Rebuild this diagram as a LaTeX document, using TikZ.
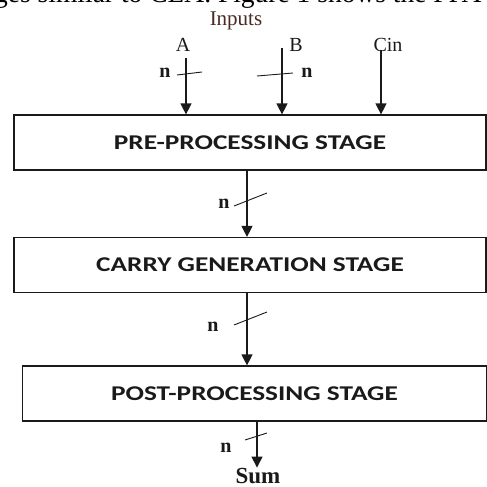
\documentclass[tikz,border=0pt]{standalone}
\usepackage{fontspec}
\setmainfont{Liberation Serif}
\newfontfamily\calib{Carlito}
\usetikzlibrary{arrows.meta}
\definecolor{inkc}{HTML}{1A1A1A}
\definecolor{brownc}{HTML}{4A2A22}
\tikzset{
  stagebox/.style={draw=inkc, line width=1.2pt, minimum width=472pt, minimum height=55pt, inner sep=0pt,
    font=\calib\bfseries\fontsize{21}{24}\selectfont, text=inkc},
  flow/.style={draw=inkc, line width=1.2pt, -{Triangle[width=11pt,length=11pt]}},
  busmark/.style={draw=inkc, line width=0.9pt},
  serlab/.style={font=\fontsize{20}{22}\selectfont, text=inkc, inner sep=0pt, anchor=base},
  nlab/.style={font=\bfseries\fontsize{20}{22}\selectfont, text=inkc, inner sep=0pt}
}
\newcommand{\wide}[1]{\scalebox{1.3}[1]{#1}}
\begin{document}
\begin{tikzpicture}[x=1pt,y=-1pt]
\useasboundingbox (0,0) rectangle (487,487);
\begin{scope}
\clip (0,0) rectangle (487,487);
\node[anchor=base west, font=\fontsize{27.5}{30}\selectfont, inner sep=0pt] (pagetext) at (-6,3) {ges similar to CLA. Figure 1 shows the PPA};
\end{scope}
\node[font=\fontsize{21}{23}\selectfont, text=brownc, inner sep=0pt, anchor=base] (inputs) at (236,26) {Inputs};
\node[serlab] (labA) at (183,52) {A};
\node[serlab] (labB) at (296,52) {B};
\node[serlab] (labC) at (388,52) {Cin};
\node[stagebox] (pre) at (250,142.5) {\wide{PRE-PROCESSING STAGE}};
\node[stagebox] (carry) at (250,265) {\wide{CARRY GENERATION STAGE}};
\node[stagebox, minimum width=464pt] (post) at (254.5,393.5) {\wide{POST-PROCESSING STAGE}};
\node[font=\bfseries\fontsize{23}{25}\selectfont, text=inkc, inner sep=0pt, anchor=base] (sum) at (258,483) {Sum};
\coordinate (aTop) at (186,58);
\coordinate (bTop) at (282,48);
\coordinate (cTop) at (381,50);
\draw[flow] (aTop) -- (aTop |- pre.north);
\draw[flow] (bTop) -- (bTop |- pre.north);
\draw[flow] (cTop) -- (cTop |- pre.north);
\coordinate (s2) at (247,0);
\coordinate (s3) at (247,0);
\coordinate (s4) at (257,0);
\draw[flow] (s2 |- pre.south) -- (s2 |- carry.north);
\draw[flow] (s3 |- carry.south) -- (s3 |- post.north);
\draw[flow] (s4 |- post.south) -- (s4 |- sum.north);
% bus marks
\coordinate (ma1) at (177,75); \coordinate (ma2) at (202,72);
\draw[busmark] (ma1) -- (ma2);
\coordinate (mb1) at (257,76); \coordinate (mb2) at (293,73);
\draw[busmark] (mb1) -- (mb2);
\coordinate (m21) at (234,206); \coordinate (m22) at (267,193);
\draw[busmark] (m21) -- (m22);
\coordinate (m31) at (234,325); \coordinate (m32) at (267,312);
\draw[busmark] (m31) -- (m32);
\coordinate (m41) at (245,440); \coordinate (m42) at (267,433);
\draw[busmark] (m41) -- (m42);
\node[nlab] (nA) at (165,73) {n};
\node[nlab] (nB) at (307,73) {n};
\node[nlab] (n2) at (224,204) {n};
\node[nlab] (n3) at (213,327) {n};
\node[nlab] (n4) at (226,448) {n};
\end{tikzpicture}
\end{document}
